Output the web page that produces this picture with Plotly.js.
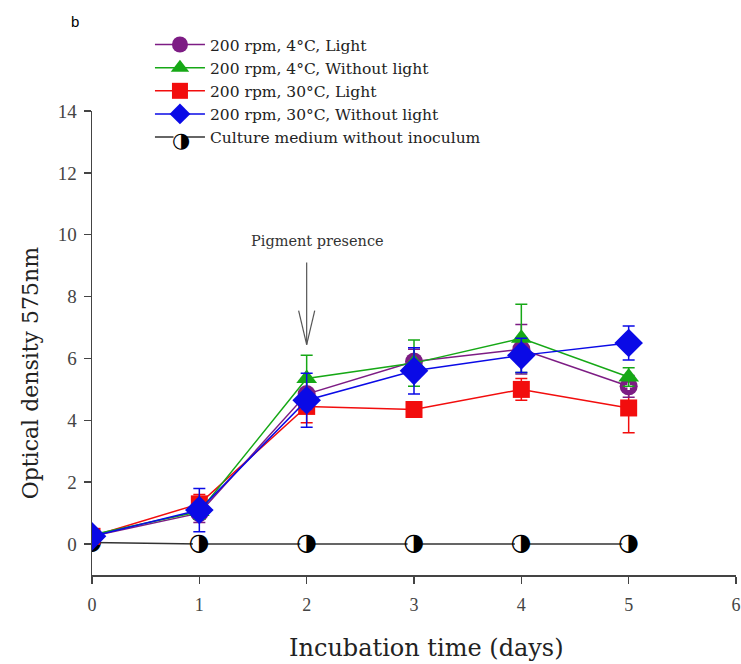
<!DOCTYPE html>
<html>
<head>
<meta charset="utf-8">
<script src="https://cdn.plot.ly/plotly-3.0.1.min.js"></script>
<style>html,body{margin:0;padding:0;background:#fff;}#chart{width:741px;height:664px;}</style>
</head>
<body>
<div id="chart"></div>
<script>
const days = [0, 1, 2, 3, 4, 5];

const names = [
  "200 rpm, 4°C, Light",
  "200 rpm, 4°C, Without light",
  "200 rpm, 30°C, Light",
  "200 rpm, 30°C, Without light",
  "Culture medium without inoculum"
];

const od4Light      = [0.25, 1.00, 4.85, 5.90, 6.30, 5.10];
const od4Dark       = [0.30, 1.05, 5.35, 5.85, 6.65, 5.40];
const od30Light     = [0.25, 1.30, 4.45, 4.35, 5.00, 4.40];
const od30Dark      = [0.25, 1.10, 4.65, 5.60, 6.10, 6.50];
const odBlank       = [0.05, 0.00, 0.00, 0.00, 0.00, 0.00];

const err4Light  = [0.08, 0.30, 0.50, 0.40, 0.80, 0.35];
const err4Dark   = [0.08, 0.25, 0.75, 0.75, 1.10, 0.30];
const err30Light = [0.08, 0.30, 0.53, 0.10, 0.35, 0.80];
const err30Dark  = [0.08, 0.70, 0.87, 0.75, 0.55, 0.55];

const colPurple = "#7d1c84";
const colGreen  = "#16a816";
const colRed    = "#f20d0d";
const colBlue   = "#0a0ae6";

const serif = "DejaVu Serif";
const serif2 = "Liberation Serif";

function series(name, y, err, color, symbol, size, rank) {
  return {
    x: days, y: y, name: name, type: "scatter", mode: "lines+markers",
    legendrank: rank,
    line: {color: color, width: 1.5},
    marker: {color: color, symbol: symbol, size: size, line: {width: 0}},
    error_y: {type: "data", array: err, visible: true, color: color, thickness: 1.5, width: 6}
  };
}

const traces = [
  {
    x: days, y: odBlank, name: names[4], type: "scatter", mode: "lines+markers",
    legendrank: 5,
    line: {color: "#333", width: 1.5},
    marker: {color: "#fff", symbol: "circle", size: 13, line: {color: "#fff", width: 0}}
  },
  {
    x: days, y: odBlank, type: "scatter", mode: "text", showlegend: false, hoverinfo: "skip",
    text: days.map(() => "\u25D1"), textposition: "middle center",
    textfont: {family: "DejaVu Sans", size: 24, color: "#000"}
  },
  series(names[2], od30Light, err30Light, colRed, "square", 17, 3),
  series(names[0], od4Light, err4Light, colPurple, "circle", 18, 1),
  {
    x: days, y: od4Light, type: "scatter", mode: "markers", showlegend: false, hoverinfo: "skip",
    marker: {color: "#fff", symbol: "cross", size: 6, line: {width: 0}}
  },
  series(names[1], od4Dark, err4Dark, colGreen, "triangle-up", 18, 2),
  series(names[3], od30Dark, err30Dark, colBlue, "diamond", 22, 4)
];

const layout = {
  width: 741, height: 664,
  margin: {l: 92, r: 5, t: 111, b: 89},
  paper_bgcolor: "#fff", plot_bgcolor: "#fff",
  font: {family: serif, color: "#333"},
  showlegend: true,
  legend: {
    x: 0.09, y: 1.179, xanchor: "left", yanchor: "top",
    font: {family: serif, size: 15.5, color: "#222"},
    bgcolor: "rgba(0,0,0,0)", tracegroupgap: 0, itemwidth: 50
  },
  xaxis: {
    range: [0, 6], tickvals: [0, 1, 2, 3, 4, 5, 6],
    showgrid: false, zeroline: false, showline: true, linecolor: "#444", linewidth: 1.5,
    ticks: "outside", ticklen: 7, tickwidth: 1.5, tickcolor: "#444", ticklabelstandoff: 6,
    tickfont: {family: serif2, size: 18, color: "#444"}
  },
  yaxis: {
    range: [-1, 14], tickvals: [0, 2, 4, 6, 8, 10, 12, 14],
    showgrid: false, zeroline: false, showline: true, linecolor: "#444", linewidth: 1.5,
    ticks: "outside", ticklen: 7, tickwidth: 1.5, tickcolor: "#444", ticklabelstandoff: 3,
    tickfont: {family: serif2, size: 19, color: "#444"}
  },
  annotations: [
    {xref: "paper", yref: "paper", x: 0.52, y: -0.157, xanchor: "center", yanchor: "middle",
     text: "Incubation time (days)", showarrow: false, font: {family: serif, size: 24, color: "#222"}},
    {xref: "paper", yref: "paper", x: -0.096, y: 0.435, xanchor: "center", yanchor: "middle", textangle: -90,
     text: "Optical density 575nm", showarrow: false, font: {family: serif, size: 22, color: "#222"}},
    {xref: "paper", yref: "paper", x: -0.026, y: 1.192, xanchor: "center", yanchor: "middle",
     text: "b", showarrow: false, font: {family: "Liberation Sans", size: 15, color: "#000"}},
    {xref: "paper", yref: "paper", x: 0.1375, y: 0.937, xanchor: "center", yanchor: "middle",
     text: "\u25D1", showarrow: false, font: {family: "DejaVu Sans", size: 21, color: "#000"}},
    {xref: "x", yref: "y", x: 2.1, y: 9.8, text: "Pigment presence", showarrow: false,
     font: {family: serif, size: 14.5, color: "#333"}}
  ],
  shapes: [
    {type: "line", xref: "x", yref: "y", x0: 2, x1: 2, y0: 9.1, y1: 6.45, line: {color: "#555", width: 1.2}},
    {type: "line", xref: "x", yref: "y", x0: 1.925, x1: 2, y0: 7.55, y1: 6.45, line: {color: "#555", width: 1.2}},
    {type: "line", xref: "x", yref: "y", x0: 2.075, x1: 2, y0: 7.55, y1: 6.45, line: {color: "#555", width: 1.2}}
  ]
};

Plotly.newPlot("chart", traces, layout, {displayModeBar: false, staticPlot: true});
</script>
</body>
</html>
